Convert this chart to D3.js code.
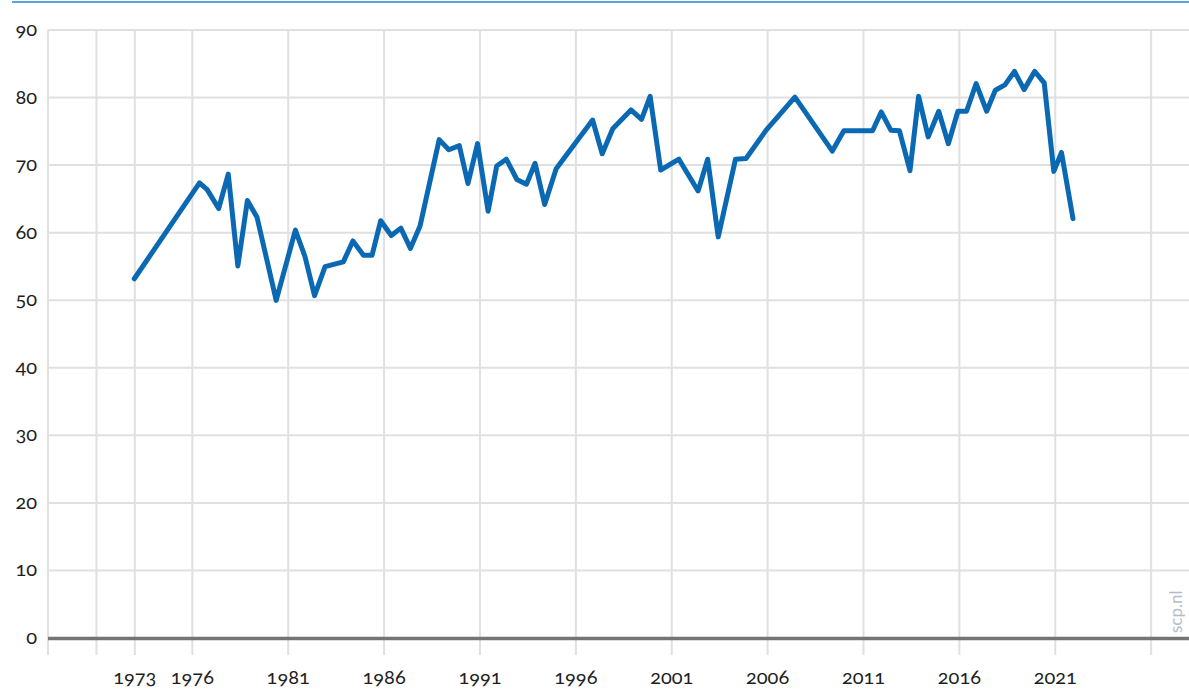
<!DOCTYPE html>
<html>
<head>
<meta charset="utf-8">
<script src="https://cdn.jsdelivr.net/npm/d3@7"></script>
<style>
	body { margin: 0; background: #fff; }
	svg { display: block; }
	.lbl { font-family: Lato, "Open Sans", sans-serif; font-size: 20px; fill: #1e1e1e; font-variant-numeric: oldstyle-nums; }
</style>
</head>
<body>
<svg id="chart"></svg>
<script>
// survey moments (decimal year) and values
let years = [1973, 1976.4, 1976.8, 1977.4, 1977.9, 1978.4, 1978.9, 1979.4, 1980.4, 1981.4,
	1981.9, 1982.4, 1982.95, 1983.9, 1984.4, 1984.95, 1985.4, 1985.85, 1986.4, 1986.9,
	1987.4, 1987.9, 1988.9, 1989.4, 1989.95, 1990.4, 1990.9, 1991.45, 1991.9, 1992.4,
	1992.95, 1993.45, 1993.9, 1994.4, 1995.0, 1996.9, 1997.4, 1997.95, 1998.9, 1999.45,
	1999.9, 2000.45, 2001.4, 2002.4, 2002.9, 2003.45, 2004.35, 2004.9, 2005.95, 2007.45,
	2009.4, 2010.0, 2011.5, 2011.95, 2012.45, 2012.9, 2013.45, 2013.9, 2014.4, 2014.95,
	2015.45, 2015.95, 2016.4, 2016.9, 2017.45, 2017.9, 2018.4, 2018.9, 2019.4, 2019.95,
	2020.45, 2020.95, 2021.35, 2021.95];
let values = [53.1, 67.3, 66.3, 63.5, 68.6, 55.0, 64.7, 62.2, 49.9, 60.3,
	56.4, 50.6, 54.9, 55.6, 58.7, 56.6, 56.6, 61.7, 59.5, 60.6,
	57.6, 60.9, 73.7, 72.2, 72.8, 67.2, 73.1, 63.1, 69.8, 70.8,
	67.8, 67.1, 70.2, 64.1, 69.4, 76.6, 71.6, 75.3, 78.1, 76.7,
	80.1, 69.2, 70.8, 66.1, 70.8, 59.3, 70.8, 70.9, 75.1, 80.0,
	72.0, 75.0, 75.0, 77.8, 75.1, 75.0, 69.1, 80.1, 74.1, 77.9,
	73.1, 77.9, 77.9, 82.0, 77.9, 81.0, 81.8, 83.8, 81.1, 83.8,
	82.1, 69.0, 71.8, 62.0];

let gridYears = [1971, 1973, 1976, 1981, 1986, 1991, 1996, 2001, 2006, 2011, 2016, 2021, 2026];
let labelYears = [1973, 1976, 1981, 1986, 1991, 1996, 2001, 2006, 2011, 2016, 2021];
let yTicks = [0, 10, 20, 30, 40, 50, 60, 70, 80, 90];

function makeChart() {
	let w = 1189;
	let h = 690;
	let plotL = 48;
	let plotT = 29.5;
	let plotB = 637.5;
	let tickBottom = 655;

	let data = years.map((y, i) => ({ year: y, value: values[i] }));

	let chart = d3.select('#chart')
		.attr('width', w)
		.attr('height', h);

	let xScale = d3.scaleLinear()
		.domain([1968.5, 2028])
		.range([plotL, w]);

	let yScale = d3.scaleLinear()
		.domain([0, 90])
		.range([plotB, plotT]);

	// top rule
	chart.append('line')
		.attr('x1', 12).attr('x2', w)
		.attr('y1', 2).attr('y2', 2)
		.attr('stroke', '#5aa3dc')
		.attr('stroke-width', 2);

	// horizontal grid + y labels
	let yAxis = d3.axisLeft(yScale)
		.tickValues(yTicks)
		.tickSize(-(w - plotL))
		.tickPadding(11);

	let gy = chart.append('g')
		.attr('transform', `translate(${plotL}, 0)`)
		.call(yAxis);
	gy.select('.domain').remove();
	gy.selectAll('.tick line').attr('stroke', '#e0e0e0').attr('stroke-width', 2);
	gy.selectAll('.tick text').attr('class', 'lbl').attr('dy', '0.3em');

	// vertical grid + x labels
	let xAxis = d3.axisBottom(xScale)
		.tickValues(gridYears)
		.tickSize(tickBottom - plotT)
		.tickPadding(15)
		.tickFormat(d => labelYears.includes(d) ? d : '');

	let gx = chart.append('g')
		.attr('transform', `translate(0, ${plotT})`)
		.call(xAxis);
	gx.select('.domain').remove();
	gx.selectAll('.tick line').attr('stroke', '#e0e0e0').attr('stroke-width', 2);
	gx.selectAll('.tick text').attr('class', 'lbl');

	// left edge of grid
	chart.append('line')
		.attr('x1', plotL).attr('x2', plotL)
		.attr('y1', plotT).attr('y2', tickBottom)
		.attr('stroke', '#e0e0e0')
		.attr('stroke-width', 2);

	// baseline
	chart.append('line')
		.attr('x1', plotL).attr('x2', w)
		.attr('y1', yScale(0) + 1).attr('y2', yScale(0) + 1)
		.attr('stroke', '#747474')
		.attr('stroke-width', 3.5);

	let line = d3.line()
		.x(d => xScale(d.year))
		.y(d => yScale(d.value));

	chart.append('path')
		.datum(data)
		.attr('fill', 'none')
		.attr('stroke', '#0a69b2')
		.attr('stroke-width', 5)
		.attr('stroke-linejoin', 'round')
		.attr('stroke-linecap', 'round')
		.attr('d', line);

	// source mark
	chart.append('text')
		.attr('transform', 'translate(1182, 633) rotate(-90)')
		.style('font-family', 'Lato, "Open Sans", sans-serif')
		.style('font-size', '17px')
		.style('fill', '#b4bdc7')
		.text('scp.nl');
}

makeChart();
</script>
</body>
</html>
